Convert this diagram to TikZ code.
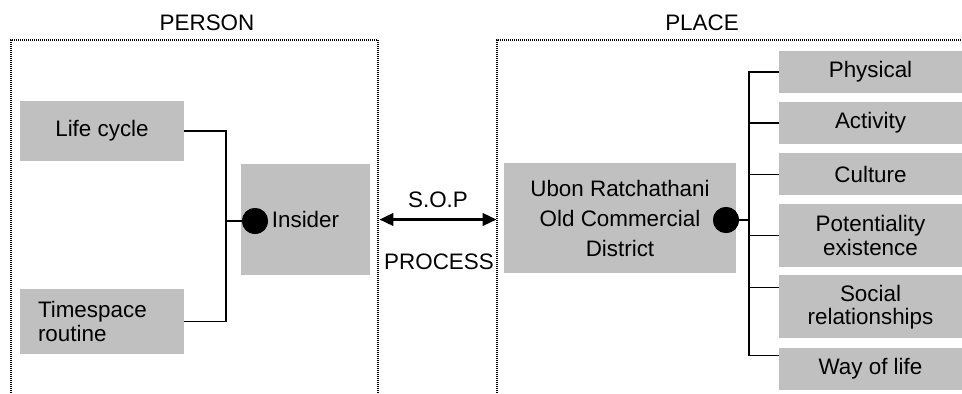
\documentclass[tikz,border=0pt]{standalone}
\usepackage{fontspec}
\setmainfont{Liberation Sans}
\usepackage{tikz}
\usetikzlibrary{arrows.meta, positioning, calc}
\definecolor{boxgray}{HTML}{C0C0C0}

\begin{document}
\begin{tikzpicture}[
  x=0.75pt, y=-0.75pt,
  node distance=6.5pt,
  every node/.style={font=\fontsize{16.8}{17.5}\selectfont},
  graybox/.style={rectangle, draw=none, fill=boxgray, inner sep=0pt, align=center},
  itembox/.style={graybox, minimum width=137.25pt, minimum height=31.5pt},
  tallbox/.style={itembox, minimum height=47.25pt},
  frame/.style={line width=0.8pt, dash pattern=on 0.75pt off 0.75pt},
  link/.style={line width=1.2pt, black},
  joint/.style={circle, fill=black, inner sep=0pt, minimum size=19.5pt},
  soparrow/.style={{Triangle[length=10.5pt, width=9pt]}-{Triangle[length=10.5pt, width=9pt]}, line width=2.6pt}
]
  \useasboundingbox (0,0) rectangle (962,393);

  % open frames for the two sides
  \draw[frame] (11,393) -- (11,40) -- (378,40) -- (378,393);
  \draw[frame] (497,393) -- (497,40) -- (962,40);
  \node (person) at (207,23) {PERSON};
  \node (place) at (702,23) {PLACE};

  % person side
  \node[graybox, minimum width=123pt, minimum height=45pt] (life) at (102,131) {Life cycle};
  \node[graybox, minimum width=123pt, minimum height=48.75pt, text width=96pt, align=left, inner xsep=13.5pt] (time) at (102,321.5) {Timespace\\routine};
  \node[graybox, minimum width=96.75pt, minimum height=83.25pt] (insider) at (305.5,219.5) {Insider};
  \node[joint] (ldot) at (255,221) {};
  \coordinate (lbus) at (226,221);

  % place side
  \node[graybox, minimum width=174pt, minimum height=82.5pt, font=\fontsize{16.8}{22.5}\selectfont] (ubon) at (620,218) {Ubon Ratchathani\\Old Commercial\\District};
  \node[joint] (rdot) at (726,220) {};
  \coordinate (rbus) at (749,220);

  \node[itembox] (phys) at (870.5,72) {Physical};
  \node[itembox, below=of phys] (act) {Activity};
  \node[itembox, below=of act] (cult) {Culture};
  \node[tallbox, below=6pt of cult] (pot) {Potentiality\\existence};
  \node[tallbox, below=6pt of pot] (soc) {Social\\relationships};
  \node[itembox, below=of soc] (way) {Way of life};

  % connectors
  \draw[link] (life.east) -| (lbus) |- (time.east);
  \draw[link] (lbus) -- (ldot.center);
  \draw[link] (rdot.center) -- (rbus);
  \foreach \n in {phys, act, cult, pot}
    \draw[link] (\n.west) -| (rbus);
  \draw[link] ($(soc.west)+(0,-19.5)$) -| (rbus);
  \draw[link] ($(way.west)+(0,-13)$) -| (rbus);
  \node[joint] at (ldot) {};
  \node[joint] at (rdot) {};

  % S.O.P process arrow
  \draw[soparrow, shorten <=6.75pt, shorten >=5.25pt] (insider.east) -- (insider.east -| ubon.west);
  \node (sop) at (438,200) {S.O.P};
  \node (proc) at (439,262) {PROCESS};
\end{tikzpicture}
\end{document}
